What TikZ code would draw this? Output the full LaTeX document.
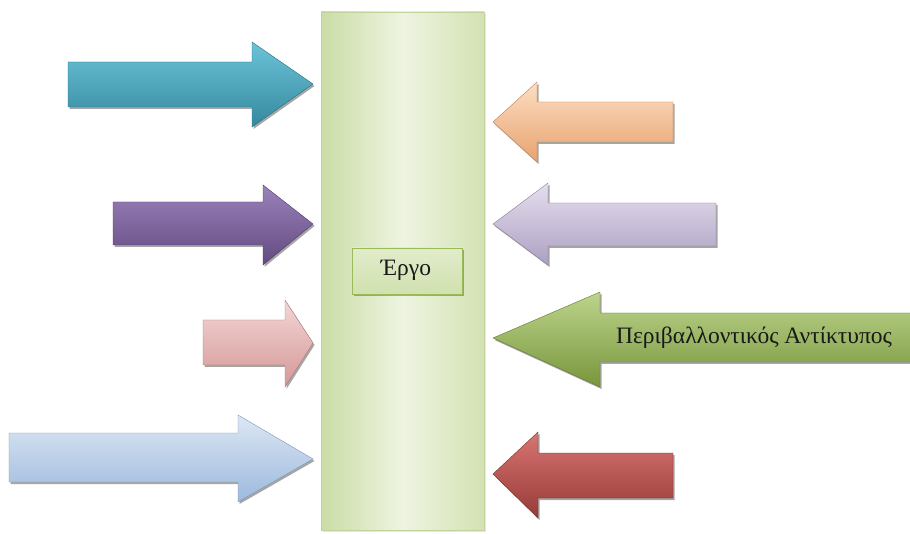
\documentclass[tikz,border=0pt]{standalone}
\usepackage{fontspec}
\setmainfont{Liberation Serif}
\begin{document}
\definecolor{aquaA}{HTML}{6CC3D8}\definecolor{aquaB}{HTML}{4BACC6}\definecolor{aquaC}{HTML}{35899F}
\definecolor{violA}{HTML}{9A82BA}\definecolor{violB}{HTML}{8064A2}\definecolor{violC}{HTML}{634B82}
\definecolor{roseA}{HTML}{F3D6D6}\definecolor{roseB}{HTML}{E6B9B8}\definecolor{roseC}{HTML}{D49896}
\definecolor{skyA}{HTML}{DCE7F4}\definecolor{skyB}{HTML}{C1D4EC}\definecolor{skyC}{HTML}{9DB9DD}
\definecolor{peachA}{HTML}{FDDEC3}\definecolor{peachB}{HTML}{FAC090}\definecolor{peachC}{HTML}{E7A36F}
\definecolor{lilacA}{HTML}{E5DEEE}\definecolor{lilacB}{HTML}{CCC1DA}\definecolor{lilacC}{HTML}{ADA0C2}
\definecolor{leafA}{HTML}{BDD48C}\definecolor{leafB}{HTML}{9BBB59}\definecolor{leafC}{HTML}{78963C}
\definecolor{brickA}{HTML}{D87573}\definecolor{brickB}{HTML}{C0504D}\definecolor{brickC}{HTML}{973A37}
\definecolor{panelEdge}{HTML}{D3E2B3}\definecolor{panelMid}{HTML}{EEF4E1}\definecolor{panelLine}{HTML}{C2D49C}
\begin{tikzpicture}[x=1pt,y=-1pt,
  shadowfill/.style={fill=black,opacity=0.35},
  gloss/.style args={#1/#2/#3}{top color=#1,middle color=#2,bottom color=#3,draw=#3!80!black,line width=0.4pt},
  bigtext/.style={font=\fontsize{23.5}{28}\selectfont,text=black!90,anchor=base,inner sep=0pt}]
\useasboundingbox (0,0) rectangle (910,534);

% arrow pointing right: left, shaft top, shaft bottom, head base x, head top, head bottom, tip x, tip y
\newcommand\rightshape[8]{(#1,#2) -- (#4,#2) -- (#4,#5) -- (#7,#8) -- (#4,#6) -- (#4,#3) -- (#1,#3) -- cycle}
% arrow pointing left: right, shaft top, shaft bottom, head base x, head top, head bottom, tip x, tip y
\newcommand\leftshape[8]{(#1,#2) -- (#4,#2) -- (#4,#5) -- (#7,#8) -- (#4,#6) -- (#4,#3) -- (#1,#3) -- cycle}
\newcommand\glossarrow[2]{%
  \begin{scope}[shift={(1.5,2)}]\fill[shadowfill] #1;\end{scope}
  \shade[gloss=#2] #1;}

% central panel
\fill[black,opacity=0.10] (323,14) rectangle (486,532);
\shade[left color=panelEdge!85!leafB,right color=panelEdge,middle color=panelMid,draw=panelLine,line width=0.6pt]
  (321,12) rectangle (484,530);

% left arrows
\glossarrow{\rightshape{68}{62}{107}{252}{42}{127}{313}{84}}{aquaA/aquaB/aquaC}
\glossarrow{\rightshape{113}{202}{245}{263}{185}{265}{313}{224}}{violA/violB/violC}
\glossarrow{\rightshape{203}{320}{365}{285}{300}{387}{313}{343}}{roseA/roseB/roseC}
\glossarrow{\rightshape{9}{433}{482}{238}{415}{502}{313}{459}}{skyA/skyB/skyC}

% right arrows
\glossarrow{\leftshape{673}{102}{142}{537}{82}{162}{493}{122}}{peachA/peachB/peachC}
\glossarrow{\leftshape{716}{203}{246}{548}{183}{265}{493}{224}}{lilacA/lilacB/lilacC}
\glossarrow{\leftshape{912}{313}{362}{600}{292}{387}{493}{338}}{leafA/leafB/leafC}
\glossarrow{\leftshape{673}{453}{498}{538}{432}{518}{493}{474}}{brickA/brickB/brickC}

% labels
\fill[black,opacity=0.3] (354,250) rectangle (464,296);
\shade[top color=leafA!45!white,middle color=leafA!30!white,bottom color=leafA!70!white,draw=leafB,line width=0.5pt]
  (352,248) rectangle (462,294);
\node[bigtext] (work) at (406,276) {Έργο};
\node[bigtext] (impact) at (754,344) {Περιβαλλοντικός Αντίκτυπος};
\end{tikzpicture}
\end{document}
